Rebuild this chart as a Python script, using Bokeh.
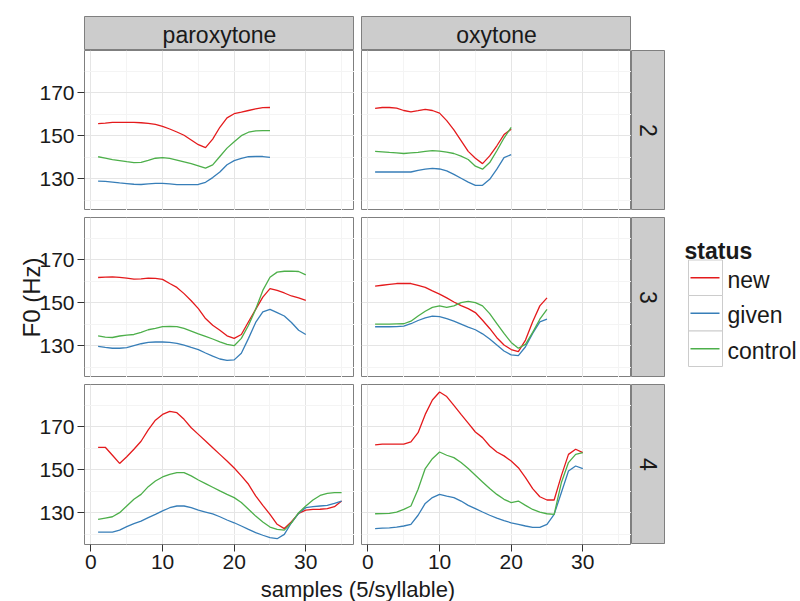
import math
from bokeh.plotting import figure
from bokeh.layouts import row, column, Spacer
from bokeh.models import Range1d, FixedTicker, Grid
from bokeh.core.properties import value
from bokeh.embed import file_html
from bokeh.resources import INLINE

# ---------------- data ----------------
STRESS = ["paroxytone", "oxytone"]
SYLLABLES = ["2", "3", "4"]
STATUS = ["new", "given", "control"]
COLORS = ["#E41A1C", "#377EB8", "#4DAF4A"]
X_TICKS = [0, 10, 20, 30]
X_MINOR = [5, 15, 25, 35]
Y_TICKS = [130, 150, 170]
Y_MINOR = [120, 140, 160, 180]
X_TITLE = "samples (5/syllable)"
Y_TITLE = "F0 (Hz)"
LEGEND_TITLE = "status"

# paroxytone, 2 syllables
par2_new = [155.6, 155.8, 156.2, 156.2, 156.2, 156.2, 156.0, 155.7, 155.2, 154.3, 153.1, 151.7, 150.2, 148.0,
            145.8, 144.4, 148.4, 153.9, 158.3, 160.2, 160.9, 161.7, 162.5, 163.0, 163.1]
par2_given = [128.9, 128.7, 128.4, 128.0, 127.7, 127.4, 127.3, 127.6, 127.8, 127.8, 127.6, 127.2, 127.2, 127.2,
              127.3, 128.3, 130.5, 133.1, 136.5, 138.4, 139.4, 140.2, 140.3, 140.3, 139.9]
par2_control = [140.2, 139.6, 138.9, 138.4, 137.9, 137.5, 137.6, 138.5, 139.5, 139.8, 139.4, 138.6, 137.8, 137.0,
                136.0, 134.9, 136.4, 140.3, 144.2, 147.2, 150.0, 151.6, 152.2, 152.3, 152.3]
# oxytone, 2 syllables
oxy2_new = [162.7, 163.1, 163.1, 162.8, 161.7, 161.1, 161.6, 162.2, 161.7, 160.5, 157.0, 152.7, 147.7, 142.7,
            139.5, 137.0, 140.6, 145.3, 150.5, 153.0]
oxy2_given = [133.1, 133.1, 133.1, 133.1, 133.1, 133.1, 133.9, 134.4, 134.8, 134.5, 133.6, 132.0, 130.2, 128.4,
              126.9, 126.9, 129.7, 134.4, 139.8, 141.2]
oxy2_control = [142.7, 142.5, 142.2, 142.0, 141.7, 142.0, 142.2, 142.7, 143.0, 142.8, 142.3, 141.7, 140.5, 138.9,
                135.8, 134.4, 137.5, 143.0, 148.9, 153.9]
# paroxytone, 3 syllables
par3_new = [161.7, 161.9, 162.0, 161.8, 161.4, 160.9, 161.1, 161.4, 161.3, 160.8, 158.9, 157.1, 154.2, 150.9,
            147.2, 142.6, 139.5, 137.2, 134.6, 133.4, 135.2, 141.1, 146.9, 152.6, 156.5, 155.7, 154.5, 153.1,
            152.2, 151.1]
par3_given = [129.7, 129.2, 128.8, 128.8, 129.1, 130.0, 130.9, 131.5, 131.7, 131.7, 131.5, 131.1, 130.3, 129.2,
              128.2, 126.6, 125.1, 123.8, 123.2, 123.4, 126.5, 133.4, 140.8, 145.7, 146.9, 145.4, 143.8, 140.8,
              137.2, 135.2]
par3_control = [134.6, 134.0, 133.8, 134.5, 134.9, 135.2, 136.2, 137.4, 138.0, 138.9, 139.0, 138.9, 138.0, 136.8,
                135.5, 134.3, 133.1, 131.8, 130.6, 130.0, 133.4, 139.5, 146.9, 155.7, 161.8, 164.2, 164.6, 164.7,
                164.5, 162.9]
# oxytone, 3 syllables
oxy3_new = [157.7, 158.1, 158.5, 158.9, 158.9, 158.9, 158.0, 157.1, 155.5, 154.0, 152.2, 150.3, 148.6, 147.2,
            145.4, 141.8, 138.0, 133.7, 130.3, 128.2, 127.2, 132.6, 141.1, 148.5, 152.2]
oxy3_given = [138.8, 138.8, 138.8, 138.9, 139.1, 140.2, 141.7, 142.9, 143.7, 143.5, 142.6, 141.4, 140.0, 138.6,
              137.4, 135.5, 133.1, 130.3, 127.5, 125.7, 125.4, 129.5, 135.7, 141.1, 142.3]
oxy3_control = [140.0, 140.0, 140.0, 140.1, 140.2, 141.4, 143.8, 146.0, 147.8, 148.5, 147.8, 148.5, 150.0, 150.6,
                150.0, 148.5, 144.9, 140.3, 135.7, 131.5, 128.8, 130.6, 136.2, 142.3, 146.9]
# paroxytone, 4 syllables
par4_new = [160.4, 160.4, 156.7, 152.9, 156.0, 159.5, 163.2, 168.5, 173.0, 175.7, 177.1, 176.5, 173.4, 169.5,
            166.4, 163.3, 160.2, 157.1, 154.0, 150.8, 147.1, 143.2, 137.8, 133.4, 129.2, 124.6, 122.6, 125.8,
            129.7, 131.2, 131.5, 131.6, 131.9, 132.8, 135.4]
par4_given = [121.0, 121.0, 121.0, 121.9, 123.5, 124.9, 126.1, 127.7, 129.2, 130.8, 132.3, 133.1, 133.1, 132.3,
              131.2, 130.3, 129.4, 128.1, 126.6, 125.3, 123.8, 122.2, 120.7, 119.5, 118.4, 117.9, 119.9, 125.3,
              129.7, 132.3, 132.8, 133.1, 133.4, 134.3, 135.4]
par4_control = [126.9, 127.5, 128.1, 130.0, 133.1, 136.2, 138.5, 142.1, 144.7, 146.6, 147.8, 148.6, 148.6, 147.1,
                145.2, 143.5, 141.8, 140.1, 138.5, 137.0, 134.7, 131.6, 128.4, 125.7, 123.3, 122.2, 121.9, 125.3,
                130.0, 133.1, 135.9, 138.0, 139.0, 139.3, 139.3]
# oxytone, 4 syllables
oxy4_new = [161.5, 161.9, 161.9, 161.9, 161.9, 162.9, 167.2, 175.7, 182.4, 186.1, 184.0, 179.9, 175.7, 171.6,
            167.5, 164.9, 161.0, 158.2, 156.4, 154.0, 150.9, 146.3, 141.2, 137.4, 135.9, 135.9, 147.1, 157.1,
            159.5, 157.9]
oxy4_given = [122.6, 122.8, 122.9, 123.3, 123.8, 124.6, 128.8, 134.3, 137.0, 138.5, 137.7, 137.0, 135.4, 133.4,
              131.9, 130.3, 128.8, 127.5, 126.3, 125.3, 124.6, 123.8, 123.2, 123.2, 124.6, 129.2, 139.3, 149.4,
              151.7, 150.5]
oxy4_control = [129.5, 129.6, 129.7, 130.3, 131.5, 133.1, 140.9, 150.5, 155.1, 158.2, 156.7, 155.6, 153.3, 150.5,
                147.4, 144.3, 141.2, 138.5, 136.2, 134.7, 135.4, 133.4, 131.5, 130.3, 129.5, 129.2, 143.9, 153.3,
                157.1, 157.9]

TABLE = {
    ("2", "paroxytone"): [par2_new, par2_given, par2_control],
    ("2", "oxytone"): [oxy2_new, oxy2_given, oxy2_control],
    ("3", "paroxytone"): [par3_new, par3_given, par3_control],
    ("3", "oxytone"): [oxy3_new, oxy3_given, oxy3_control],
    ("4", "paroxytone"): [par4_new, par4_given, par4_control],
    ("4", "oxytone"): [oxy4_new, oxy4_given, oxy4_control],
}

# ---------------- style ----------------
FONT = "Liberation Sans"
TXT = "#1A1A1A"
BORDER = "#7F7F7F"
STRIP_FILL = "#CCCCCC"
GRID_MAJOR = "#E5E5E5"
GRID_MINOR = "#F4F4F4"
PW, PH = 270, 160          # panel frame size
GAP_X, GAP_Y = 7, 7
AXIS_W = 84
STRIP = 34
BOTTOM = 33
XR = (-0.9, 36.8)
YR = (115.2, 189.6)


def drop_grids(p):
    p.center = [r for r in p.center if not isinstance(r, Grid)]


def base(**kw):
    opts = dict(output_backend="svg", toolbar_location=None,
                min_border_left=0, min_border_right=0, min_border_top=0, min_border_bottom=0,
                background_fill_color="white", border_fill_color="white")
    opts.update(kw)
    p = figure(**opts)
    drop_grids(p)
    return p


def style_axis(ax):
    ax.axis_line_color = None
    ax.major_tick_in = 0
    ax.major_tick_out = 7
    ax.major_tick_line_color = "#333333"
    ax.minor_tick_line_color = None
    ax.major_label_text_font = FONT
    ax.major_label_text_font_size = "21px"
    ax.major_label_text_color = TXT
    ax.major_label_standoff = 3


def panel(syl, stress, left_axis, bottom_axis, ylabel=None):
    p = base(frame_width=PW, frame_height=PH,
             x_range=Range1d(*XR), y_range=Range1d(*YR),
             x_axis_location="below" if bottom_axis else None,
             y_axis_location="left" if left_axis else None,
             min_border_left=AXIS_W if left_axis else 0,
             min_border_bottom=BOTTOM if bottom_axis else 0)
    p.outline_line_color = BORDER
    p.outline_line_width = 1
    xt = FixedTicker(ticks=X_TICKS, minor_ticks=X_MINOR)
    yt = FixedTicker(ticks=Y_TICKS, minor_ticks=Y_MINOR)
    if bottom_axis:
        p.xaxis.ticker = xt
        style_axis(p.xaxis[0])
    if left_axis:
        p.yaxis.ticker = yt
        style_axis(p.yaxis[0])
        if ylabel:
            ax = p.yaxis[0]
            ax.axis_label = ylabel
            ax.axis_label_text_font = FONT
            ax.axis_label_text_font_size = "24px"
            ax.axis_label_text_font_style = "normal"
            ax.axis_label_text_color = TXT
            ax.axis_label_standoff = -9
    gx = Grid(dimension=0, ticker=xt)
    gy = Grid(dimension=1, ticker=yt)
    for g in (gx, gy):
        g.grid_line_color = GRID_MAJOR
        g.grid_line_width = 1
        g.minor_grid_line_color = GRID_MINOR
        g.minor_grid_line_width = 1
        p.add_layout(g)
    for series, color in zip(TABLE[(syl, stress)], COLORS):
        xs = list(range(1, len(series) + 1))
        p.line(xs, series, line_color=color, line_width=1.3)
    return p


def top_strip(label):
    p = base(frame_width=PW, frame_height=STRIP, x_range=Range1d(0, 1), y_range=Range1d(0, 1),
             x_axis_location=None, y_axis_location=None)
    p.background_fill_color = STRIP_FILL
    p.outline_line_color = BORDER
    p.text(x=[0.5], y=[0.47], text=[label], text_align="center", text_baseline="middle",
           text_font=value(FONT), text_font_size="23px", text_color=TXT)
    return p


def right_strip(label):
    p = base(frame_width=STRIP, frame_height=PH, x_range=Range1d(0, 1), y_range=Range1d(0, 1),
             x_axis_location=None, y_axis_location=None)
    p.background_fill_color = STRIP_FILL
    p.outline_line_color = BORDER
    p.text(x=[0.5], y=[0.5], text=[label], angle=-math.pi / 2, text_align="center", text_baseline="middle",
           text_font=value(FONT), text_font_size="23px", text_color=TXT)
    return p


rows = []
for i, syl in enumerate(SYLLABLES):
    last = i == len(SYLLABLES) - 1
    left = panel(syl, STRESS[0], True, last, Y_TITLE if i == 1 else None)
    right = panel(syl, STRESS[1], False, last)
    rs = right_strip(syl)
    h = PH + (BOTTOM if last else 0)
    rs_col = column(rs, Spacer(width=STRIP, height=BOTTOM)) if last else rs
    rows.append(row(left, Spacer(width=GAP_X, height=h), right, rs_col))

LEFT_W = AXIS_W + PW + GAP_X + PW + STRIP
top_row = row(Spacer(width=AXIS_W, height=STRIP), top_strip(STRESS[0]), Spacer(width=GAP_X, height=STRIP),
              top_strip(STRESS[1]), Spacer(width=STRIP, height=STRIP))

TOP_M = 16
FOOT_H = 601 - (TOP_M + STRIP + 3 * PH + 2 * GAP_Y + BOTTOM)
footer = base(frame_width=LEFT_W, frame_height=FOOT_H, x_range=Range1d(0, LEFT_W), y_range=Range1d(0, FOOT_H),
              x_axis_location=None, y_axis_location=None)
footer.outline_line_color = None
footer.text(x=[AXIS_W + (PW * 2 + GAP_X) / 2], y=[FOOT_H / 2], text=[X_TITLE], text_align="center",
            text_baseline="middle", text_font=value(FONT), text_font_size="22px", text_color=TXT)

main = column(Spacer(width=LEFT_W, height=TOP_M), top_row, rows[0], Spacer(width=LEFT_W, height=GAP_Y),
              rows[1], Spacer(width=LEFT_W, height=GAP_Y), rows[2], footer)

# legend panel (manual ggplot-style keys)
LW = 800 - LEFT_W
leg = base(frame_width=LW, frame_height=601, x_range=Range1d(0, LW), y_range=Range1d(601, 0),
           x_axis_location=None, y_axis_location=None)
leg.outline_line_color = None
leg.text(x=[19], y=[250], text=[LEGEND_TITLE], text_align="left", text_baseline="alphabetic",
         text_font=value(FONT), text_font_size="23px", text_font_style="bold", text_color=TXT)
KEY_TOP, KEY_H = 259.5, 35.5
cy = [KEY_TOP + KEY_H * (k + 0.5) for k in range(len(STATUS))]
leg.rect(x=[40] * len(STATUS), y=cy, width=34, height=KEY_H, fill_color="white", line_color="#CCCCCC",
         line_width=1)
leg.segment(x0=[25] * len(STATUS), y0=cy, x1=[54] * len(STATUS), y1=cy, line_color=COLORS, line_width=1.3)
leg.text(x=[62] * len(STATUS), y=[c + 2 for c in cy], text=STATUS, text_align="left", text_baseline="middle",
         text_font=value(FONT), text_font_size="23px", text_color=TXT)

layout = row(main, leg)

open("out.html", "w").write(file_html(layout, INLINE))
